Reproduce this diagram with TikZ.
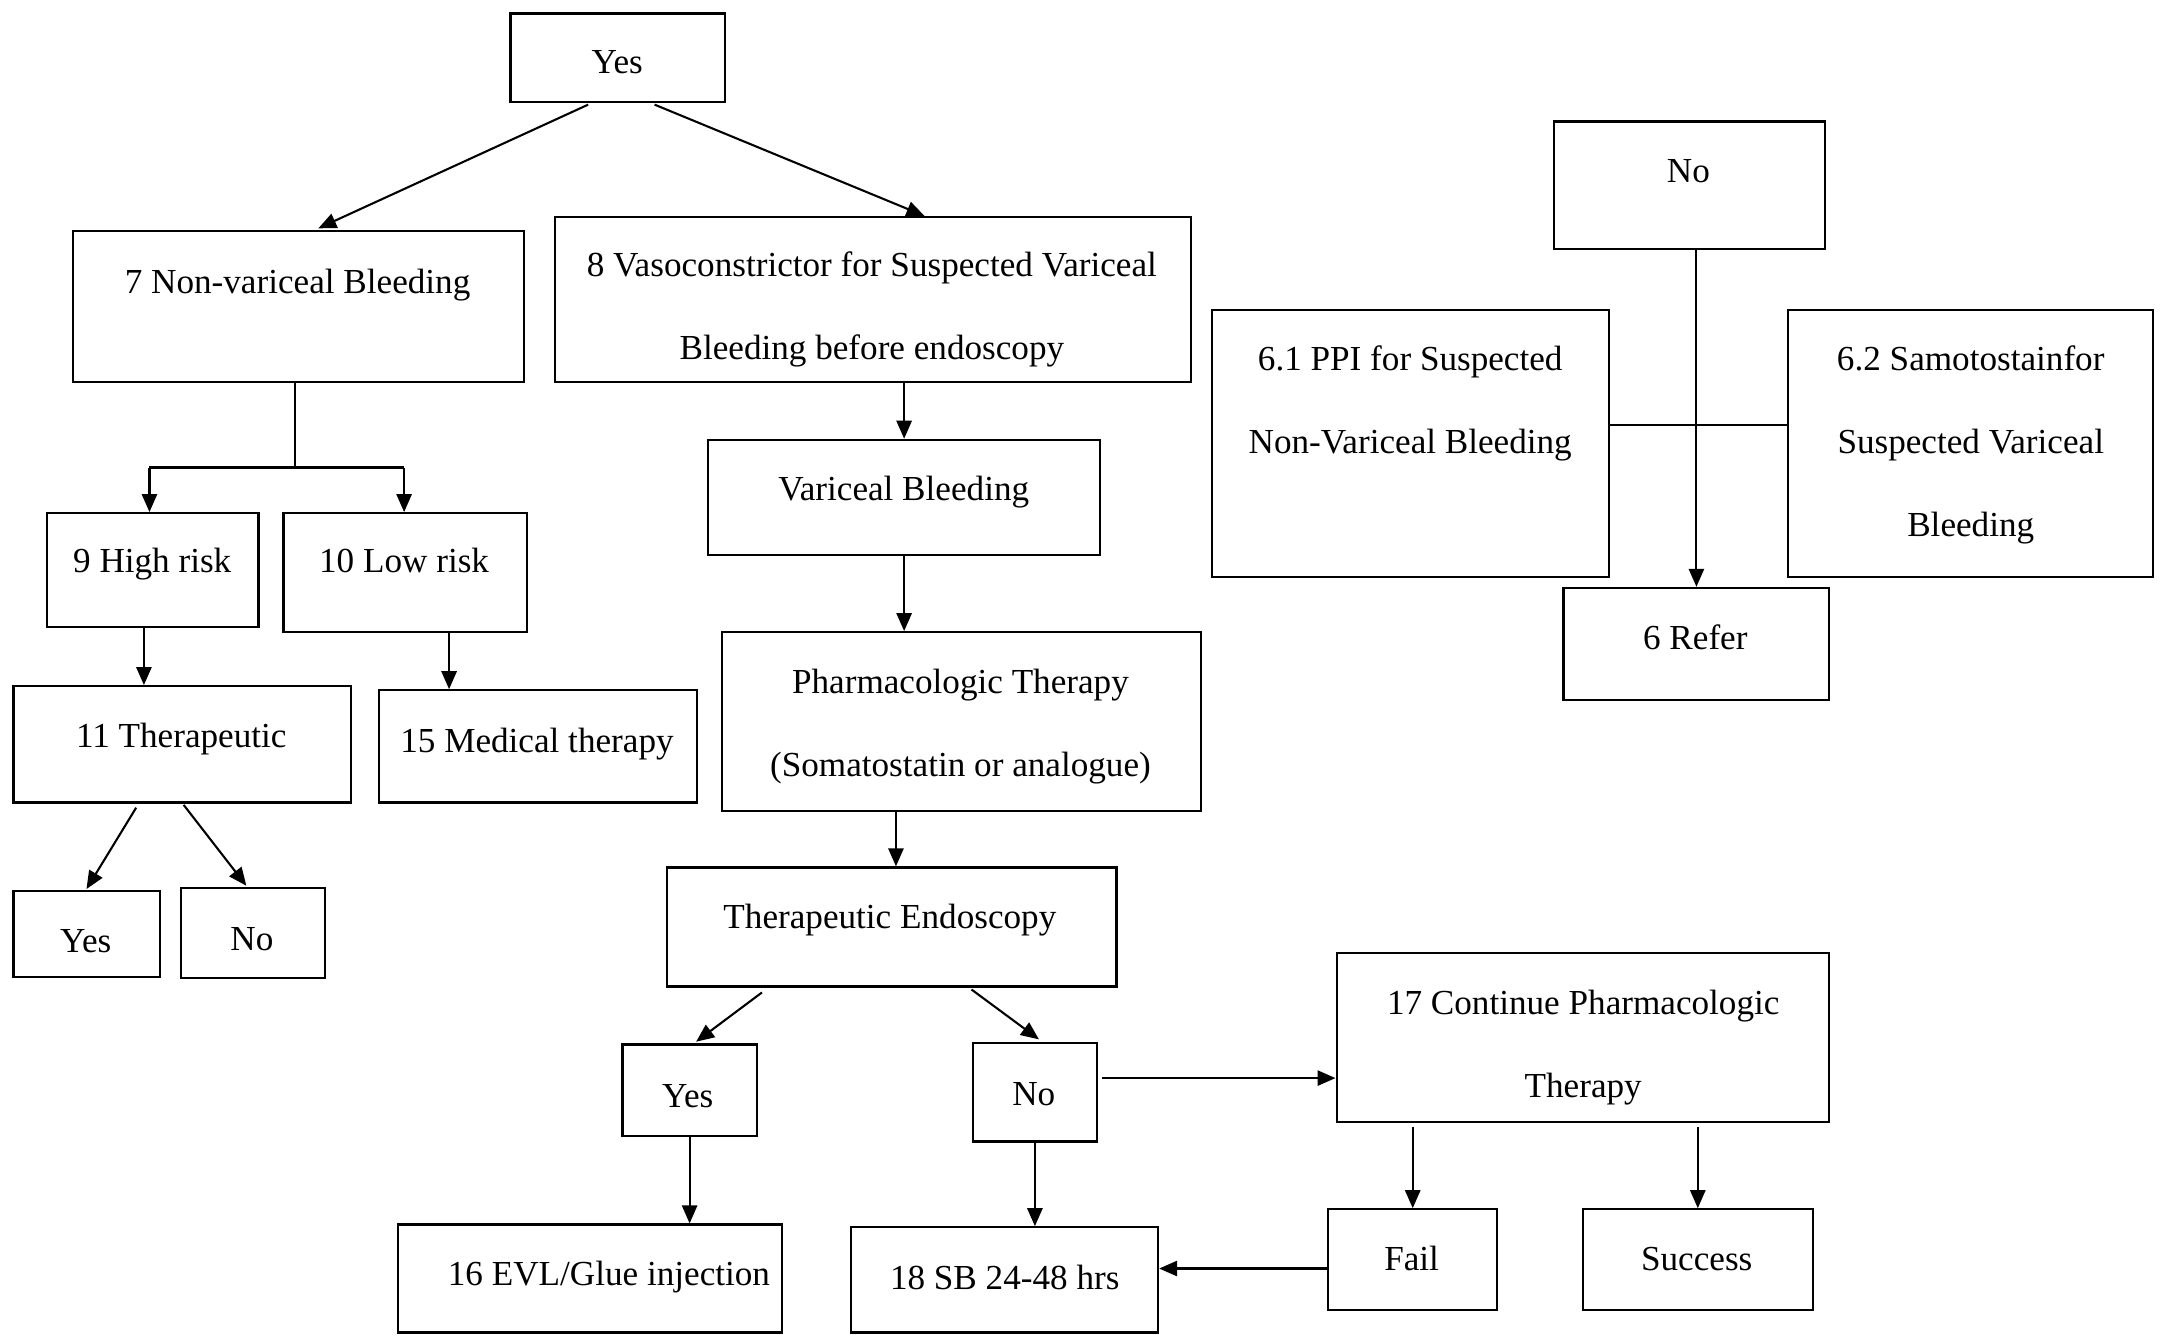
\documentclass[tikz,border=0pt]{standalone}
\usepackage{fontspec}
\setmainfont{Liberation Serif}
\usetikzlibrary{arrows.meta,calc}
\newcommand\bx[5]{\node[box, minimum width={(#4-#2)*0.5pt}, minimum height={(#5-#3)*0.5pt}] (#1) at (#2,#3) {};}
\begin{document}
\begin{tikzpicture}[x=0.5pt,y=-0.5pt,
 box/.style={draw, line width=0.8pt, inner sep=0pt, anchor=north west},
 lbl/.style={anchor=base, inner sep=0pt, font=\fontsize{12.7}{15}\selectfont},
 arr/.style={-{Triangle[length=6.5pt,width=5.5pt]}, line width=0.75pt},
 ln/.style={line width=0.75pt}]
\useasboundingbox (0,0) rectangle (1568,964);
% boxes
\bx{yes}{368}{9}{523}{73}
\bx{n7}{52}{166}{378}{275}
\bx{n8}{400}{156}{860}{275}
\bx{notr}{1122}{87}{1318}{179}
\bx{p61}{875}{223}{1162}{416}
\bx{p62}{1291}{223}{1555}{416}
\bx{refer}{1129}{424}{1321}{505}
\bx{n9}{33}{370}{186}{452}
\bx{n10}{204}{370}{380}{456}
\bx{n11}{9}{495}{253}{579}
\bx{n15}{273}{498}{503}{579}
\bx{yesl}{9}{643}{115}{705}
\bx{nol}{130}{641}{234}{706}
\bx{vb}{511}{317}{794}{400}
\bx{ph}{521}{456}{867}{585}
\bx{te}{481}{626}{806}{712}
\bx{yesm}{449}{754}{546}{820}
\bx{nom}{702}{753}{792}{824}
\bx{evl}{287}{884}{564}{962}
\bx{sb}{614}{886}{836}{962}
\bx{n17}{965}{688}{1321}{810}
\bx{fail}{959}{873}{1081}{946}
\bx{succ}{1143}{873}{1309}{946}
% texts
\node[lbl] (tyes) at (446,53) {Yes};
\node[lbl] (t7) at (215,212) {7 Non-variceal Bleeding};
\node[lbl] (t8a) at (630,200) {8 Vasoconstrictor for Suspected Variceal};
\node[lbl] (t8b) at (630,260) {Bleeding before endoscopy};
\node[lbl] (tnotr) at (1220,132) {No};
\node[lbl] (t61a) at (1019,268) {6.1 PPI for Suspected};
\node[lbl] (t61b) at (1019,328) {Non-Variceal Bleeding};
\node[lbl] (t62a) at (1424,268) {6.2 Samotostainfor};
\node[lbl] (t62b) at (1424,328) {Suspected Variceal};
\node[lbl] (t62c) at (1424,388) {Bleeding};
\node[lbl] (trefer) at (1225,469) {6 Refer};
\node[lbl] (t9) at (110,414) {9 High risk};
\node[lbl] (t10) at (292,414) {10 Low risk};
\node[lbl] (t11) at (131,540) {11 Therapeutic};
\node[lbl] (t15) at (388,544) {15 Medical therapy};
\node[lbl] (tyesl) at (62,688) {Yes};
\node[lbl] (tnol) at (182,687) {No};
\node[lbl] (tvb) at (653,362) {Variceal Bleeding};
\node[lbl] (tpha) at (694,501) {Pharmacologic Therapy};
\node[lbl] (tphb) at (694,561) {(Somatostatin or analogue)};
\node[lbl] (tte) at (643,671) {Therapeutic Endoscopy};
\node[lbl] (tyesm) at (497,800) {Yes};
\node[lbl] (tnom) at (747,799) {No};
\node[lbl] (tevl) at (440,929) {16 EVL/Glue injection};
\node[lbl] (tsb) at (726,932) {18 SB 24-48 hrs};
\node[lbl] (t17a) at (1144,733) {17 Continue Pharmacologic};
\node[lbl] (t17b) at (1144,793) {Therapy};
\node[lbl] (tfail) at (1020,918) {Fail};
\node[lbl] (tsucc) at (1226,918) {Success};
% connectors
\draw[arr] ($(yes.south west)+(57,1)$) -- ($(n7.north west)+(178,-1)$);
\draw[arr] ($(yes.south west)+(105,1)$) -- ($(n8.north west)+(268,0)$);
\coordinate (j7) at (213,338);
\coordinate (jl) at (108,338);
\coordinate (jr) at (292,338);
\draw[ln] (n7.south -| j7) -- (j7);
\draw[line width=1.1pt] (jl) -- (jr);
\draw[arr] (jl) -- (jl |- n9.north);
\draw[arr] (jr) -- (jr |- n10.north);
\draw[arr] (n8.south -| vb.north) -- (vb.north);
\draw[arr] (vb.south) -- (vb.south |- ph.north);
\draw[arr] ($(n9.south west)+(71,0)$) -- ($(n11.north west)+(95,0)$);
\draw[arr] ($(n10.south west)+(120.5,0)$) -- ($(n15.north west)+(51.5,0)$);
\draw[arr] ($(n11.south west)+(89.4,3)$) -- ($(yesl.north west)+(53.5,-0.6)$);
\draw[arr] ($(n11.south west)+(123.7,1)$) -- ($(nol.north west)+(48,-1)$);
\draw[arr] ($(ph.south west)+(126.4,0)$) -- ($(te.north west)+(166.4,0)$);
\draw[arr] ($(te.south west)+(69.6,3.5)$) -- ($(yesm.north west)+(54,-1.3)$);
\draw[arr] ($(te.south west)+(221,1.4)$) -- ($(nom.north west)+(48.7,-2)$);
\draw[arr] (yesm.south) -- (yesm.south |- evl.north);
\draw[arr] (nom.south) -- (nom.south |- sb.north);
\draw[arr] ($(nom.north east)+(3,26)$) coordinate (s17) -- (s17 -| n17.west);
\draw[arr] ($(fail.north |- n17.south)+(0,3)$) -- (fail.north);
\draw[arr] ($(succ.north |- n17.south)+(0,3)$) -- (succ.north);
\draw[arr] ($(fail.south west)+(0,-31)$) coordinate (f18) -- (f18 -| sb.east);
\draw[arr] (refer.north |- notr.south) -- (refer.north);
\draw[ln] ($(p61.north east)+(0,84)$) coordinate (h6) -- (h6 -| p62.west);
\end{tikzpicture}
\end{document}
